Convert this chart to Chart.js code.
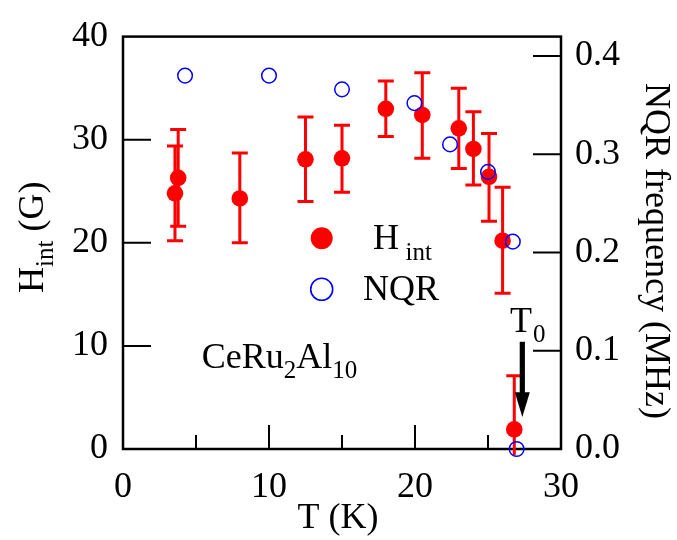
<!DOCTYPE html>
<html><head><meta charset="utf-8">
<script src="https://cdn.jsdelivr.net/npm/chart.js@4.4.0/dist/chart.umd.min.js"></script>
<style>html,body{margin:0;padding:0;background:#fff;}#wrap{width:677px;height:540px;}</style>
</head><body><div id="wrap"><canvas id="c" width="677" height="540"></canvas></div>
<script>
// ---- data ----
const temperature = [3.56, 3.78, 8.0, 12.5, 15.0, 18.0, 20.5, 23.0, 24.0, 25.07, 26.0, 26.8];
const hInt        = [24.8, 26.3, 24.3, 28.1, 28.2, 33.0, 32.4, 31.1, 29.1, 26.4, 20.2, 1.9];
const hIntLow     = [20.2, 21.6, 20.0, 24.0, 24.9, 30.3, 28.2, 27.2, 25.6, 22.1, 15.1, -0.6];
const hIntHigh    = [29.4, 31.0, 28.7, 32.2, 31.4, 35.7, 36.5, 35.0, 32.7, 30.6, 25.4, 7.1];
const nqrTemperature = [4.25, 10.0, 15.0, 19.96, 22.4, 25.0, 26.7, 26.96];
const nqrFrequency   = [0.380, 0.380, 0.366, 0.352, 0.310, 0.282, 0.211, 0.0];
const xMajorTicks = [10, 20];
const xMinorTicks = [5, 15, 25];
const yLeftTicks  = [10, 20, 30];
const yRightTicks = [0.1, 0.2, 0.3, 0.4];

const FAM = '"Liberation Serif", "Times New Roman", serif';
const RED = '#ff0000', BLUE = '#0000ff';

function txt(ctx, s, x, y, size, align) {
  ctx.font = size + 'px ' + FAM;
  ctx.textAlign = align || 'left';
  ctx.textBaseline = 'alphabetic';
  ctx.fillText(s, x, y);
  return ctx.measureText(s).width;
}

const decor = {
  id: 'decor',
  beforeDatasetsDraw(chart) {
    const {ctx, chartArea: a, scales} = chart;
    ctx.save();
    ctx.strokeStyle = '#000';
    ctx.lineWidth = 2.5;
    ctx.strokeRect(a.left, a.top, a.right - a.left, a.bottom - a.top);
    ctx.lineWidth = 2;
    ctx.beginPath();
    xMajorTicks.forEach(v => { const x = scales.x.getPixelForValue(v); ctx.moveTo(x, a.bottom); ctx.lineTo(x, a.bottom - 24); });
    xMinorTicks.forEach(v => { const x = scales.x.getPixelForValue(v); ctx.moveTo(x, a.bottom); ctx.lineTo(x, a.bottom - 14); });
    yLeftTicks.forEach(v => { const y = scales.y.getPixelForValue(v); ctx.moveTo(a.left, y); ctx.lineTo(a.left + 28, y); });
    yRightTicks.forEach(v => { const y = scales.y2.getPixelForValue(v); ctx.moveTo(a.right, y); ctx.lineTo(a.right - 28, y); });
    ctx.stroke();
    ctx.restore();
  },
  beforeDatasetDraw(chart, args) {
    if (args.index !== 1) return;
    const {ctx, scales} = chart;
    ctx.save();
    ctx.strokeStyle = RED;
    ctx.lineWidth = 3;
    ctx.beginPath();
    temperature.forEach((t, i) => {
      const x = scales.x.getPixelForValue(t);
      const y1 = scales.y.getPixelForValue(hIntLow[i]);
      const y2 = scales.y.getPixelForValue(hIntHigh[i]);
      ctx.moveTo(x, y1); ctx.lineTo(x, y2);
      ctx.moveTo(x - 8, y2); ctx.lineTo(x + 8, y2);
      if (hIntLow[i] >= 0) { ctx.moveTo(x - 8, y1); ctx.lineTo(x + 8, y1); }
    });
    ctx.stroke();
    ctx.restore();
  },
  afterDraw(chart) {
    const {ctx, scales} = chart;
    ctx.save();
    // legend
    ctx.beginPath(); ctx.fillStyle = RED; ctx.arc(321.7, 238.3, 11, 0, Math.PI * 2); ctx.fill();
    ctx.beginPath(); ctx.strokeStyle = BLUE; ctx.lineWidth = 1.6; ctx.arc(321.7, 289.3, 11, 0, Math.PI * 2); ctx.stroke();
    ctx.fillStyle = '#000';
    txt(ctx, 'H', 373, 249.3, 36);
    txt(ctx, 'int', 405.5, 260, 25);
    txt(ctx, 'NQR', 363, 300, 36);
    // compound label
    let x = 201.7;
    x += txt(ctx, 'CeRu', x, 367.7, 36);
    x += txt(ctx, '2', x, 378, 25);
    x += txt(ctx, 'Al', x, 367.7, 36);
    txt(ctx, '10', x, 378, 25);
    // T0 label and arrow
    txt(ctx, 'T', 510, 331.7, 36);
    txt(ctx, '0', 533, 342.3, 25);
    const ax = scales.x.getPixelForValue(27.35);
    const yTop = scales.y.getPixelForValue(10.4);
    const yHead = scales.y.getPixelForValue(5.5);
    const yTip = scales.y.getPixelForValue(3.1);
    ctx.fillRect(ax - 2.6, yTop, 5.2, yHead - yTop + 1);
    ctx.beginPath(); ctx.moveTo(ax - 7.5, yHead); ctx.lineTo(ax + 7.5, yHead); ctx.lineTo(ax, yTip); ctx.closePath(); ctx.fill();
    // x title
    txt(ctx, 'T (K)', 338, 528, 36, 'center');
    // left title (rotated)
    ctx.save();
    ctx.translate(43, 293); ctx.rotate(-Math.PI / 2);
    let p = 0;
    p += txt(ctx, 'H', p, 0, 36);
    p += txt(ctx, 'int', p, 10, 25);
    txt(ctx, ' (G)', p, 0, 36);
    ctx.restore();
    // right title (rotated)
    ctx.save();
    ctx.translate(646, 251); ctx.rotate(Math.PI / 2);
    txt(ctx, 'NQR frequency (MHz)', 0, 0, 36, 'center');
    ctx.restore();
    ctx.restore();
  }
};

function build() {
  const tickFont = {family: FAM, size: 36};
  new Chart(document.getElementById('c'), {
    type: 'scatter',
    data: {
      datasets: [
        { label: 'NQR', yAxisID: 'y2', clip: false,
          data: nqrTemperature.map((t, i) => ({x: t, y: nqrFrequency[i]})),
          pointRadius: 7.3, pointBorderWidth: 1.5, borderColor: BLUE, backgroundColor: 'rgba(0,0,0,0)', showLine: false },
        { label: 'H_int', yAxisID: 'y', clip: false,
          data: temperature.map((t, i) => ({x: t, y: hInt[i]})),
          pointRadius: 8.3, pointBorderWidth: 0, borderColor: RED, backgroundColor: RED, showLine: false }
      ]
    },
    options: {
      responsive: false, animation: false, devicePixelRatio: 1,
      layout: {padding: {top: 23, left: 0, right: 0, bottom: 0}},
      plugins: {legend: {display: false}, tooltip: {enabled: false}},
      scales: {
        x: { type: 'linear', position: 'bottom', min: 0, max: 30,
          grid: {display: false, drawTicks: false}, border: {display: false},
          ticks: {stepSize: 10, font: tickFont, color: '#000', padding: 17, maxRotation: 0},
          afterFit(s) { s.height = 91; } },
        y: { type: 'linear', position: 'left', min: 0, max: 40,
          grid: {display: false, drawTicks: false}, border: {display: false},
          ticks: {stepSize: 10, font: tickFont, color: '#000', padding: 15},
          afterFit(s) { s.width = 123; } },
        y2: { type: 'linear', position: 'right', min: 0, max: 0.4197,
          grid: {display: false, drawTicks: false}, border: {display: false},
          ticks: {stepSize: 0.1, includeBounds: false, font: tickFont, color: '#000', padding: 14,
                  callback: v => Number(v).toFixed(1)},
          afterFit(s) { s.width = 116; } }
      }
    },
    plugins: [decor]
  });
}

Chart.defaults.font.family = FAM;
const loads = [document.fonts.load('36px "Liberation Serif"'), document.fonts.load('25px "Liberation Serif"')];
Promise.all(loads).then(build, build);
</script>
</body></html>
